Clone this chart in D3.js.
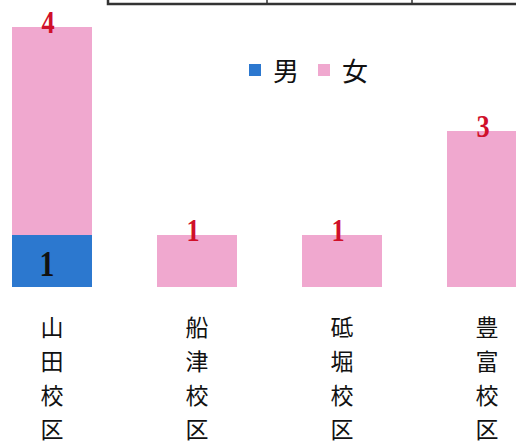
<!DOCTYPE html>
<html><head><meta charset="utf-8">
<script src="https://cdn.jsdelivr.net/npm/d3@7"></script>
<style>body{margin:0;background:#fff}svg{display:block}</style>
</head><body>
<script>
const categories = ["山田校区", "船津校区", "砥堀校区", "豊富校区"];
const male = [1, 0, 0, 0];
const female = [4, 1, 1, 3];
const seriesNames = ["男", "女"];

const W = 516, H = 445;
const svg = d3.select("body").append("svg").attr("width", W).attr("height", H);
const colors = {"男": "#2c78cf", "女": "#f0a8cf"};

// top table fragment
const frame = svg.append("g").attr("stroke", "#333").attr("fill", "none");
frame.append("path").attr("d", "M108,0 V4 H516").attr("stroke-width", 2.5);
[267, 412].forEach(xx => frame.append("line").attr("x1", xx).attr("x2", xx).attr("y1", 0).attr("y2", 4).attr("stroke-width", 1.5));

const x = d3.scaleBand().domain(categories).range([-20.5, 559.5]).paddingInner(65/145).paddingOuter(65/290);
const y = d3.scaleLinear().domain([0, 5]).range([287, 27]);

const data = categories.map((c, i) => ({c, m: male[i], f: female[i]}));
const stack = d3.stack().keys(["m", "f"])(data);
const keyName = {m: "男", f: "女"};

svg.append("g").selectAll("g").data(stack).join("g")
  .attr("fill", s => colors[keyName[s.key]])
  .selectAll("rect").data(s => s).join("rect")
  .attr("x", d => x(d.data.c)).attr("width", x.bandwidth())
  .attr("y", d => y(d[1])).attr("height", d => y(d[0]) - y(d[1]));

// female labels at top (slightly condensed serif digits)
svg.append("g").selectAll("text").data(data.filter(d => d.f > 0)).join("text")
  .attr("transform", d => `translate(${x(d.c) + x.bandwidth() / 2 - 4},${y(d.m + d.f) + 6}) scale(0.85,1)`)
  .attr("text-anchor", "middle")
  .attr("font-family", "Liberation Serif, serif").attr("font-weight", "bold")
  .attr("font-size", 31).attr("fill", "#d0102a")
  .text(d => d.f);

// male labels inside
svg.append("g").selectAll("text").data(data.filter(d => d.m > 0)).join("text")
  .attr("transform", d => `translate(${x(d.c) + x.bandwidth() / 2 - 5},${(y(d.m) + y(0)) / 2 + 15}) scale(0.85,1)`)
  .attr("text-anchor", "middle")
  .attr("font-family", "Liberation Serif, serif").attr("font-weight", "bold")
  .attr("font-size", 35).attr("fill", "#111")
  .text(d => d.m);

// legend
const leg = svg.append("g");
const legX = [249, 318];
seriesNames.forEach((n, i) => {
  leg.append("rect").attr("x", legX[i]).attr("y", 64).attr("width", 12).attr("height", 12).attr("fill", colors[n]);
  leg.append("text").attr("x", legX[i] + 24).attr("y", 81)
    .attr("font-family", "Noto Sans CJK JP, sans-serif").attr("font-size", 26).attr("fill", "#111")
    .text(n);
});

// vertical category labels
const lab = svg.append("g").attr("font-family", "Noto Sans CJK JP, sans-serif").attr("font-size", 23).attr("fill", "#111").attr("text-anchor", "middle");
categories.forEach(c => {
  const cx = x(c) + x.bandwidth() / 2;
  Array.from(c).forEach((ch, j) => {
    lab.append("text").attr("x", cx).attr("y", 336 + j * 34).text(ch);
  });
});
</script>
</body></html>
